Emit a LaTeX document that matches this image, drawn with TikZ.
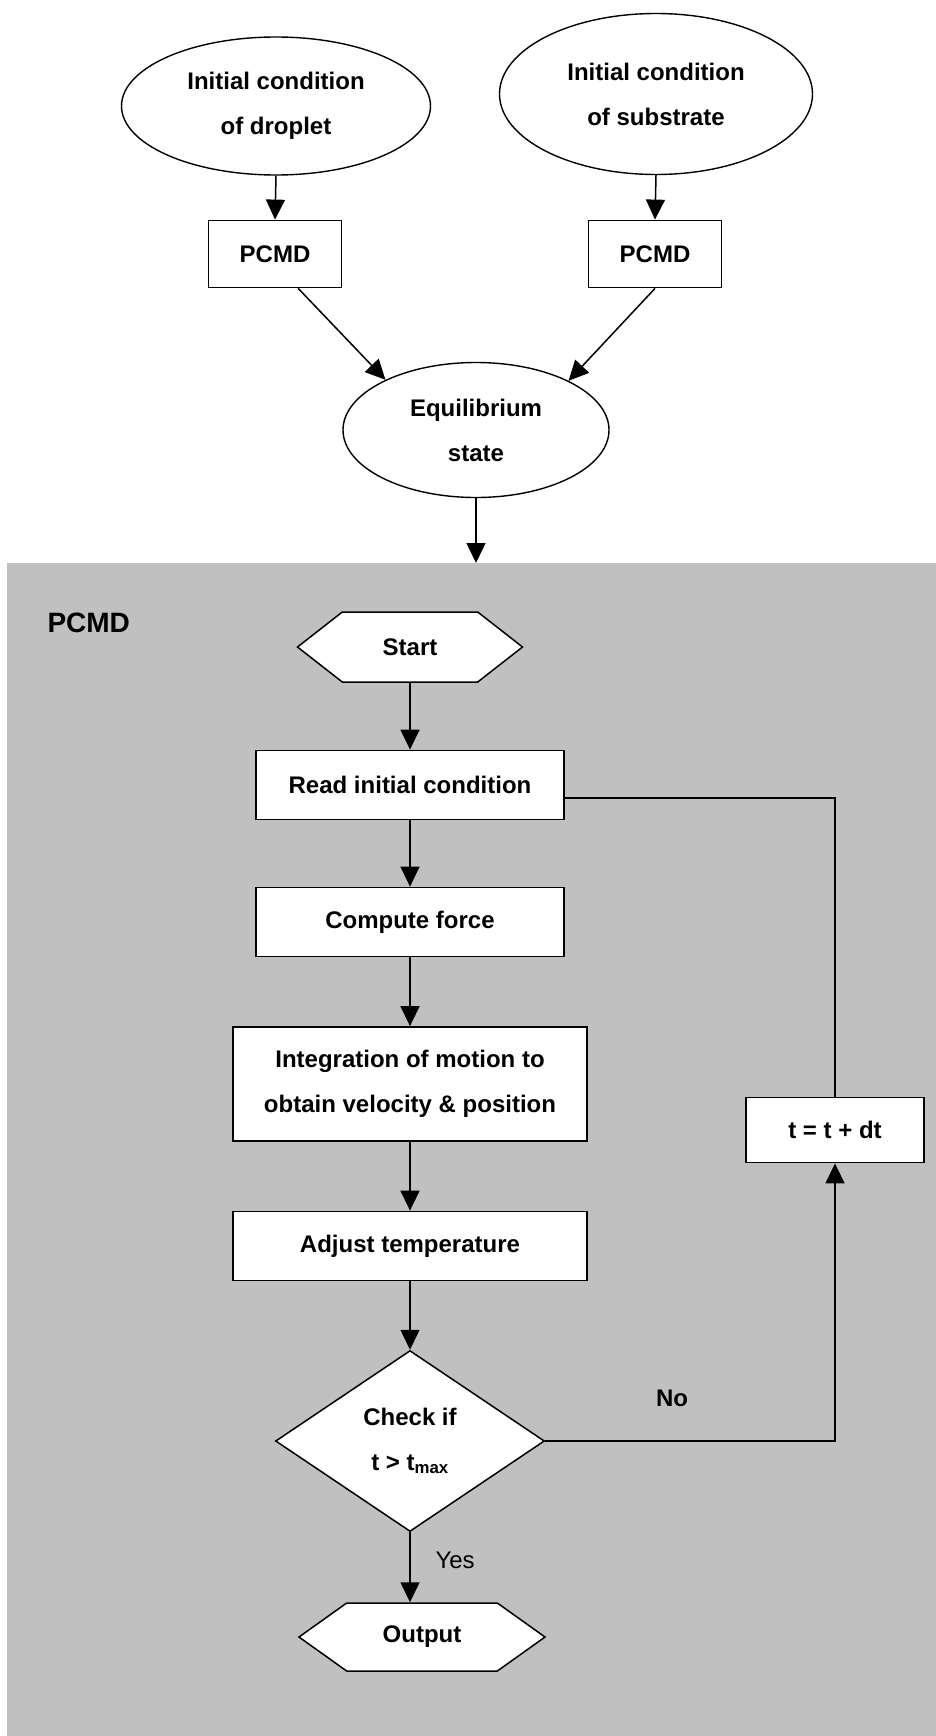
\documentclass[tikz,border=0pt]{standalone}
\usepackage{fontspec}
\setmainfont{Liberation Sans}
\usetikzlibrary{shapes.geometric,shapes.symbols,arrows.meta}
\definecolor{panelgray}{RGB}{192,192,192}
\tikzset{
  flow/.style={line width=1.5pt, -{Triangle[length=20pt,width=19pt]}},
  link/.style={line width=1.5pt},
  txt/.style={font=\bfseries\fontsize{24}{45}\selectfont},
  state/.style={ellipse, draw, line width=1.4pt, fill=white, align=center, inner sep=0pt, txt},
  procbox/.style={rectangle, draw, line width=1.8pt, fill=white, align=center, inner sep=0pt, txt},
  term/.style={signal, signal to=east and west, draw, line width=1.5pt, fill=white, inner sep=0pt, txt},
  test/.style={diamond, draw, line width=1.5pt, fill=white, align=center, inner sep=0pt, txt},
}
\newcommand{\Proc}[4][]{\node[procbox, #1] (#2) at (#3) {#4};}

\begin{document}
\begin{tikzpicture}[x=1pt, y=-1pt]
\useasboundingbox (0,0) rectangle (936,1736);
\fill[panelgray] (7,563) rectangle (936,1736);

\node[state, minimum width=309pt, minimum height=138pt] (drop) at (276,106) {Initial condition\\of droplet};
\node[state, minimum width=313pt, minimum height=161pt] (subs) at (656,94) {Initial condition\\of substrate};
\Proc[minimum width=133pt, minimum height=67pt]{pcmdA}{275,254}{PCMD}
\Proc[minimum width=133pt, minimum height=67pt]{pcmdB}{655,254}{PCMD}
\node[state, minimum width=266pt, minimum height=135pt] (equil) at (476,430) {Equilibrium\\state};
\coordinate (entry) at (476,563);

\draw[flow] (drop.south) -- (pcmdA.north);
\draw[flow] (subs.south) -- (pcmdB.north);
\draw[flow] (pcmdA.-56) -- (equil.151);
\draw[flow] (pcmdB.south) -- (equil.28);
\draw[flow] (equil.south) -- (entry);

\node[txt, font=\bfseries\fontsize{28}{32}\selectfont, anchor=west] (title) at (44,623) {PCMD};
\node[term, minimum width=225pt, minimum height=70pt, signal pointer angle=76] (start) at (410,647) {Start};
\Proc[minimum width=308pt, minimum height=69pt]{read}{410,785}{Read initial condition}
\Proc[minimum width=308pt, minimum height=69pt]{force}{410,922}{Compute force}
\Proc[minimum width=354pt, minimum height=114pt]{integ}{410,1084}{Integration of motion to\\obtain velocity \& position}
\Proc[minimum width=354pt, minimum height=69pt]{adjust}{410,1246}{Adjust temperature}
\node[test, minimum width=269pt, minimum height=181pt] (check) at (410,1441) {Check if\\t > t\textsubscript{max}};
\node[term, minimum width=246pt, minimum height=68pt, signal pointer angle=71] (output) at (422,1637) {Output};
\Proc[minimum width=178pt, minimum height=65pt]{tstep}{835,1130}{t = t + dt}

\draw[flow] (start.south) -- (read.north);
\draw[flow] (read) -- (force);
\draw[flow] (force) -- (integ);
\draw[flow] (integ) -- (adjust);
\draw[flow] (adjust) -- (check);
\draw[flow] (check.south) -- (check.south |- output.north);
\draw[flow] (check.east) -| (tstep.south);
\draw[link] (tstep.north) |- ([yshift=-13pt]read.east);

\node[txt] (no) at (672,1398) {No};
\node[txt, font=\fontsize{24}{30}\selectfont, anchor=west] (yes) at (432,1560) {Yes};
\end{tikzpicture}
\end{document}
